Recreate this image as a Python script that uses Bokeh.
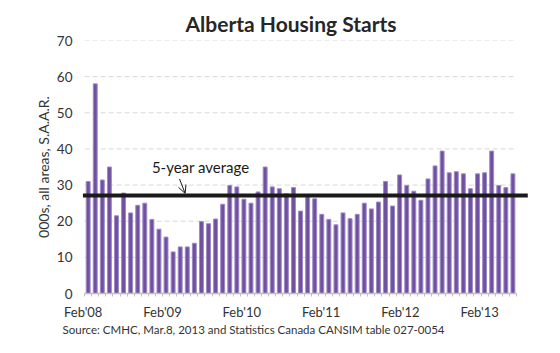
from bokeh.plotting import figure
from bokeh.models import Range1d, FixedTicker, Title, Arrow, OpenHead, Label, ColumnDataSource
from bokeh.embed import file_html
from bokeh.resources import INLINE

# Monthly housing starts, Feb'08 .. Feb'13 (000s, SAAR)
starts = [31.0, 58.0, 31.4, 35.0, 21.5, 27.8, 22.3, 24.4, 25.0, 20.5, 17.8, 15.6,
          11.5, 12.9, 12.9, 13.9, 19.9, 19.3, 20.6, 24.7, 29.9, 29.5, 26.1, 25.0,
          28.1, 35.0, 29.5, 29.0, 27.6, 29.3, 22.8, 26.8, 26.2, 21.9, 20.5, 19.0,
          22.3, 20.7, 21.9, 25.0, 23.4, 25.3, 31.0, 24.2, 32.8, 29.9, 28.3, 25.8,
          31.7, 35.3, 39.4, 33.4, 33.7, 33.1, 29.0, 33.1, 33.4, 39.4, 29.9, 29.3,
          33.1]
five_year_avg = 27.1
tick_labels = ["Feb'08", "Feb'09", "Feb'10", "Feb'11", "Feb'12", "Feb'13"]
y_ticks = [0, 10, 20, 30, 40, 50, 60, 70]

FONT = "Lato"
n = len(starts)
xs = list(range(n))
src = ColumnDataSource(dict(x=xs, top=starts))

p = figure(width=560, height=353, output_backend="svg", toolbar_location=None,
           x_range=Range1d(-0.8, 62.2), y_range=Range1d(0, 70),
           min_border_left=82, min_border_right=32, min_border_top=40, min_border_bottom=60)
p.outline_line_color = None
p.xgrid.grid_line_color = None
p.ygrid.grid_line_color = None

# dashed horizontal gridlines limited to the bar area
grid_y = y_ticks[1:]
p.segment(x0=[-0.5] * len(grid_y), x1=[n - 0.5] * len(grid_y), y0=grid_y, y1=grid_y,
          line_color="#d9d9d9", line_width=1, line_dash="5 3")

p.vbar(x="x", top="top", width=0.55, bottom=0, source=src,
       fill_color="#7050A0", line_color="#9E8AC6", line_width=1)

# 5-year average line
p.segment(x0=[-0.75], x1=[62.1], y0=[five_year_avg], y1=[five_year_avg],
          line_color="#1a1a1a", line_width=4)

p.add_layout(Label(x=9.0, y=34.9, text="5-year average", text_font=FONT,
                   text_font_size="15px", text_color="#1a1a1a", text_baseline="middle"))
p.add_layout(Arrow(x_start=12.9, y_start=31.7, x_end=13.7, y_end=five_year_avg + 0.6,
                   line_color="#1a1a1a", line_width=1,
                   end=OpenHead(size=8, line_color="#1a1a1a", line_width=1)))

# axes
tick_pos = [-0.7 + 11.2 * k for k in range(len(tick_labels))]
xt = FixedTicker(ticks=tick_pos, minor_ticks=[i - 0.5 for i in range(n + 1)])
p.xaxis.ticker = xt
p.xaxis.major_label_overrides = {t: l for t, l in zip(tick_pos, tick_labels)}
p.xaxis.bounds = (-0.5, n - 0.5)
p.xaxis.axis_line_color = "#bfbfbf"
p.xaxis.axis_line_width = 1.5
p.xaxis.major_tick_line_color = None
p.xaxis.major_tick_out = 0
p.xaxis.major_tick_in = 0
p.xaxis.minor_tick_line_color = "#bfbfbf"
p.xaxis.minor_tick_out = 3
p.xaxis.minor_tick_in = 0
p.xaxis.major_label_standoff = 7
p.xaxis.major_label_text_font = FONT
p.xaxis.major_label_text_font_size = "13px"
p.xaxis.major_label_text_color = "#333333"

p.yaxis.ticker = FixedTicker(ticks=y_ticks)
p.yaxis.axis_line_color = None
p.yaxis.major_tick_line_color = None
p.yaxis.minor_tick_line_color = None
p.yaxis.major_tick_out = 0
p.yaxis.major_label_standoff = 10
p.yaxis.major_label_text_font = FONT
p.yaxis.major_label_text_font_size = "13.5px"
p.yaxis.major_label_text_color = "#333333"
p.yaxis.axis_label = "000s, all areas, S.A.A.R."
p.yaxis.axis_label_text_font = FONT
p.yaxis.axis_label_text_font_style = "normal"
p.yaxis.axis_label_text_font_size = "14px"
p.yaxis.axis_label_text_color = "#333333"
p.yaxis.axis_label_standoff = 2

p.title = Title(text="Alberta Housing  Starts", align="left", offset=103,
                text_font=FONT, text_font_size="21px", text_font_style="bold",
                text_color="#262626")

p.add_layout(Title(text="Source: CMHC, Mar.8, 2013 and Statistics Canada  CANSIM table 027-0054",
                   align="left", offset=-20, standoff=-4, text_font=FONT, text_font_size="11.5px",
                   text_font_style="normal", text_color="#333333"), "below")

open("out.html", "w").write(file_html(p, INLINE))
